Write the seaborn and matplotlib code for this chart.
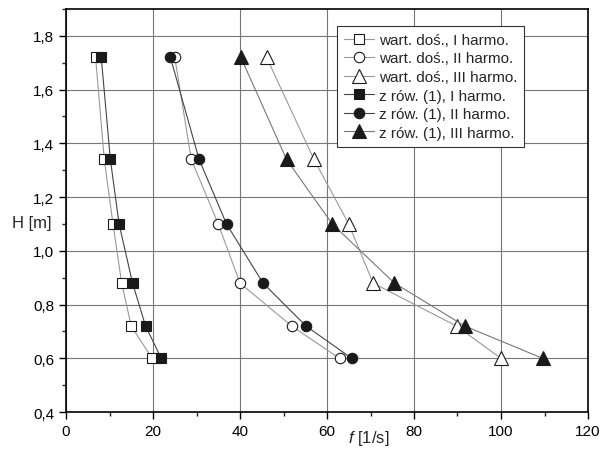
import pandas as pd
import matplotlib
matplotlib.use("Agg")
import matplotlib.pyplot as plt
import seaborn as sns
from matplotlib.ticker import MultipleLocator, FuncFormatter

# --- Data ---
H = [0.6, 0.72, 0.88, 1.1, 1.34, 1.72]

dos_I = [19.8, 15.0, 12.8, 10.8, 8.8, 6.8]
dos_II = [62.9, 51.9, 40.0, 35.0, 28.8, 25.0]
dos_III = [100.0, 89.8, 70.6, 65.0, 57.0, 46.1]

row_I = [21.9, 18.3, 15.3, 12.2, 10.2, 8.1]
row_II = [65.7, 55.2, 45.3, 36.9, 30.6, 24.0]
row_III = [109.6, 91.7, 75.5, 61.2, 50.7, 40.2]

labels = ["wart. doś., I harmo.", "wart. doś., II harmo.", "wart. doś., III harmo.",
          "z rów. (1), I harmo.", "z rów. (1), II harmo.", "z rów. (1), III harmo."]

sns.set_style("ticks")
plt.rcParams["font.family"] = ["Liberation Sans", "DejaVu Sans"]
plt.rcParams["font.size"] = 11
plt.rcParams["mathtext.fontset"] = "custom"
plt.rcParams["mathtext.it"] = "Liberation Sans:italic"
plt.rcParams["mathtext.rm"] = "Liberation Sans"

fig = plt.figure(figsize=(6, 4.52), dpi=100)
ax = fig.add_axes([0.11, 0.086, 0.87, 0.892])

# open markers first (measured values), filled on top
series = [
    (dos_I, "s", "white", "#999999", 7.5),
    (dos_II, "o", "white", "#999999", 7.5),
    (dos_III, "^", "white", "#999999", 9.5),
    (row_I, "s", "#1a1a1a", "#444444", 7.5),
    (row_II, "o", "#1a1a1a", "#444444", 7.5),
    (row_III, "^", "#1a1a1a", "#777777", 9.5),
]

for (vals, mk, fc, lc, ms), lab in zip(series, labels):
    df = pd.DataFrame({"f": vals, "H": H})
    sns.lineplot(data=df, x="f", y="H", sort=False, estimator=None, ax=ax,
                 color=lc, linewidth=0.8, marker=mk, markersize=ms,
                 markerfacecolor=fc, markeredgecolor="#1a1a1a",
                 markeredgewidth=0.8, label=lab)

ax.set_xlim(0, 120)
ax.set_ylim(0.4, 1.9)
ax.xaxis.set_major_locator(MultipleLocator(20))
ax.xaxis.set_minor_locator(MultipleLocator(10))
ax.yaxis.set_major_locator(MultipleLocator(0.2))
ax.yaxis.set_minor_locator(MultipleLocator(0.1))
ax.yaxis.set_major_formatter(FuncFormatter(lambda v, p: f"{v:.1f}".replace(".", ",")))
ax.tick_params(which="major", direction="out", length=5, width=1, colors="black", labelsize=11)
ax.tick_params(which="minor", direction="out", length=3, width=1)
ax.grid(True, which="major", color="#777777", linewidth=0.8)

for s in ax.spines.values():
    s.set_visible(True)
    s.set_color("black")
    s.set_linewidth(1.2)

ax.set_xlabel("")
ax.set_ylabel("")
fig.text(0.053, 1 - 224 / 452, "H [m]", ha="center", va="center", fontsize=12)
fig.text(0.615, 0.008, r"$\it{f}$ [1/s]", ha="center", va="bottom", fontsize=12)

leg = ax.legend(loc="upper left", bbox_to_anchor=(337 / 600, 1 - 27 / 452),
                bbox_transform=fig.transFigure, frameon=True, fancybox=False,
                edgecolor="#333333", framealpha=1, fontsize=11,
                handlelength=2.0, handletextpad=0.3, labelspacing=0.3,
                borderpad=0.45, borderaxespad=0)
leg.get_frame().set_linewidth(0.8)

plt.savefig("out.png", dpi=100)
